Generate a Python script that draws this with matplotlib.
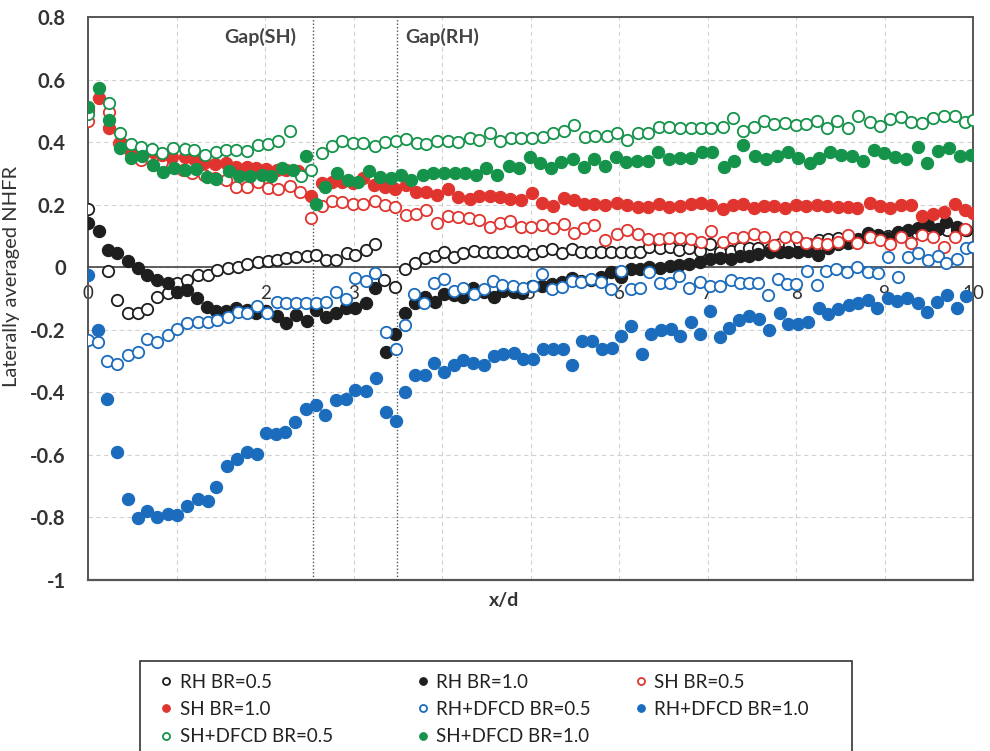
import matplotlib
matplotlib.use("Agg")
import matplotlib.pyplot as plt
from matplotlib.patches import Rectangle

plt.rcParams['font.family'] = ['Lato', 'DejaVu Sans']

# ---------------- data ----------------
rh05_x = [0.00, 0.23, 0.33, 0.45, 0.56, 0.67, 0.78, 0.90, 1.01, 1.12, 1.24, 1.35, 1.46, 1.58, 1.69, 1.80,
          1.92, 2.03, 2.14, 2.24, 2.35, 2.47, 2.58, 2.69, 2.80, 2.92, 3.02, 3.14, 3.24, 3.34, 3.47, 3.58,
          3.69, 3.81, 3.92, 4.02, 4.13, 4.24, 4.36, 4.47, 4.57, 4.68, 4.80, 4.91, 5.02, 5.13, 5.24, 5.35,
          5.47, 5.57, 5.68, 5.79, 5.91, 6.02, 6.13, 6.23, 6.34, 6.46, 6.57, 6.68, 6.79, 6.91, 7.02, 7.14,
          7.26, 7.36, 7.47, 7.57, 7.70, 7.81, 7.92, 8.03, 8.14, 8.25, 8.36, 8.47, 8.58, 8.70, 8.81, 8.92,
          9.03, 9.14, 9.25, 9.36, 9.47, 9.58, 9.70, 9.81, 9.92]
rh05_y = [0.186, -0.012, -0.106, -0.146, -0.146, -0.133, -0.095, -0.082, -0.052, -0.042, -0.026, -0.026,
          -0.008, -0.001, 0.001, 0.010, 0.017, 0.020, 0.022, 0.030, 0.033, 0.036, 0.040, 0.024, 0.022, 0.044,
          0.038, 0.054, 0.074, -0.042, -0.063, -0.007, 0.012, 0.028, 0.035, 0.049, 0.032, 0.044, 0.052, 0.048,
          0.048, 0.050, 0.048, 0.053, 0.041, 0.053, 0.059, 0.046, 0.059, 0.048, 0.048, 0.048, 0.048, 0.048,
          0.048, 0.050, 0.064, 0.061, 0.064, 0.055, 0.061, 0.051, 0.075, 0.048, 0.053, 0.061, 0.061, 0.061,
          0.059, 0.075, 0.070, 0.080, 0.075, 0.086, 0.090, 0.092, 0.090, 0.086, 0.095, 0.100, 0.100, 0.105,
          0.100, 0.110, 0.110, 0.120, 0.120, 0.118, 0.120]

rh10_x = [0.00, 0.12, 0.23, 0.33, 0.45, 0.56, 0.67, 0.78, 0.90, 1.01, 1.12, 1.23, 1.34, 1.45, 1.56, 1.67,
          1.79, 1.90, 2.01, 2.13, 2.24, 2.35, 2.47, 2.58, 2.69, 2.80, 2.91, 3.02, 3.14, 3.24, 3.36, 3.47,
          3.58, 3.69, 3.81, 3.92, 4.02, 4.13, 4.24, 4.35, 4.47, 4.58, 4.69, 4.81, 4.90, 5.01, 5.13, 5.24,
          5.35, 5.47, 5.57, 5.68, 5.79, 5.91, 6.02, 6.13, 6.23, 6.34, 6.46, 6.57, 6.68, 6.79, 6.91, 7.02,
          7.14, 7.26, 7.36, 7.47, 7.57, 7.70, 7.81, 7.91, 8.02, 8.13, 8.24, 8.36, 8.47, 8.58, 8.70, 8.81,
          8.92, 9.03, 9.15, 9.26, 9.37, 9.49, 9.60, 9.69, 9.81, 9.92]
rh10_y = [0.140, 0.116, 0.054, 0.044, 0.020, -0.001, -0.026, -0.040, -0.052, -0.079, -0.074, -0.100,
          -0.127, -0.140, -0.140, -0.129, -0.138, -0.146, -0.140, -0.157, -0.178, -0.154, -0.172, -0.138,
          -0.159, -0.146, -0.132, -0.129, -0.116, -0.068, -0.271, -0.214, -0.146, -0.114, -0.095, -0.111,
          -0.086, -0.090, -0.095, -0.065, -0.079, -0.095, -0.075, -0.079, -0.084, -0.061, -0.061, -0.055,
          -0.047, -0.035, -0.045, -0.040, -0.030, -0.014, -0.032, -0.007, -0.005, 0.000, -0.003, 0.003,
          0.007, 0.011, 0.016, 0.025, 0.029, 0.027, 0.037, 0.035, 0.043, 0.048, 0.048, 0.048, 0.050, 0.053,
          0.040, 0.060, 0.075, 0.076, 0.090, 0.108, 0.102, 0.092, 0.113, 0.118, 0.124, 0.134, 0.121, 0.145,
          0.129, 0.118]

sh05_x = [0.00, 0.24, 0.35, 0.48, 0.60, 0.73, 0.84, 0.95, 1.07, 1.18, 1.31, 1.43, 1.56, 1.67, 1.79, 1.92,
          2.03, 2.15, 2.28, 2.39, 2.52, 2.64, 2.76, 2.87, 2.99, 3.11, 3.24, 3.35, 3.47, 3.59, 3.70, 3.82,
          3.94, 4.06, 4.18, 4.30, 4.42, 4.54, 4.65, 4.77, 4.89, 5.00, 5.13, 5.25, 5.37, 5.49, 5.60, 5.72,
          5.84, 5.97, 6.09, 6.21, 6.32, 6.45, 6.56, 6.69, 6.81, 6.92, 7.04, 7.17, 7.28, 7.40, 7.52, 7.64,
          7.75, 7.87, 8.00, 8.11, 8.23, 8.35, 8.47, 8.58, 8.69, 8.83, 8.94, 9.06, 9.18, 9.30, 9.42, 9.54,
          9.67, 9.79, 9.91, 10.0]
sh05_y = [0.467, 0.497, 0.398, 0.364, 0.342, 0.326, 0.332, 0.321, 0.310, 0.300, 0.294, 0.284, 0.278, 0.257,
          0.257, 0.273, 0.252, 0.249, 0.259, 0.241, 0.156, 0.197, 0.212, 0.209, 0.202, 0.202, 0.212, 0.198,
          0.191, 0.166, 0.170, 0.182, 0.142, 0.163, 0.159, 0.156, 0.150, 0.129, 0.140, 0.148, 0.129, 0.127,
          0.134, 0.124, 0.138, 0.108, 0.124, 0.134, 0.086, 0.106, 0.118, 0.106, 0.089, 0.089, 0.092, 0.092,
          0.089, 0.081, 0.116, 0.081, 0.092, 0.095, 0.106, 0.097, 0.070, 0.097, 0.097, 0.076, 0.078, 0.074,
          0.081, 0.102, 0.078, 0.097, 0.086, 0.074, 0.097, 0.078, 0.102, 0.097, 0.064, 0.097, 0.122, 0.066]

sh10_x = [0.00, 0.12, 0.24, 0.37, 0.48, 0.61, 0.73, 0.84, 0.95, 1.09, 1.20, 1.31, 1.43, 1.56, 1.67, 1.79,
          1.90, 2.01, 2.13, 2.24, 2.37, 2.52, 2.64, 2.76, 2.87, 2.99, 3.11, 3.23, 3.35, 3.47, 3.59, 3.70,
          3.82, 3.94, 4.06, 4.18, 4.31, 4.42, 4.54, 4.65, 4.77, 4.89, 5.01, 5.13, 5.25, 5.37, 5.49, 5.60,
          5.72, 5.84, 5.97, 6.09, 6.21, 6.32, 6.45, 6.56, 6.69, 6.81, 6.92, 7.04, 7.17, 7.28, 7.40, 7.52,
          7.64, 7.75, 7.87, 8.00, 8.11, 8.23, 8.35, 8.47, 8.58, 8.69, 8.83, 8.94, 9.06, 9.18, 9.30, 9.42,
          9.54, 9.67, 9.79, 9.91, 10.0]
sh10_y = [0.502, 0.540, 0.444, 0.398, 0.369, 0.364, 0.369, 0.358, 0.353, 0.351, 0.345, 0.334, 0.330, 0.332,
          0.321, 0.319, 0.316, 0.313, 0.310, 0.310, 0.308, 0.227, 0.270, 0.273, 0.273, 0.268, 0.284, 0.262,
          0.255, 0.249, 0.262, 0.241, 0.241, 0.230, 0.249, 0.223, 0.217, 0.227, 0.227, 0.223, 0.217, 0.214,
          0.236, 0.204, 0.195, 0.220, 0.214, 0.202, 0.202, 0.198, 0.206, 0.198, 0.193, 0.191, 0.202, 0.193,
          0.195, 0.202, 0.204, 0.198, 0.185, 0.198, 0.202, 0.188, 0.195, 0.195, 0.188, 0.198, 0.195, 0.198,
          0.195, 0.191, 0.191, 0.188, 0.204, 0.195, 0.188, 0.198, 0.198, 0.163, 0.170, 0.177, 0.202, 0.182,
          0.172]

rhd05_x = [0.00, 0.11, 0.22, 0.33, 0.45, 0.56, 0.67, 0.78, 0.90, 1.01, 1.12, 1.24, 1.35, 1.46, 1.58, 1.69,
           1.80, 1.91, 2.02, 2.13, 2.24, 2.35, 2.46, 2.57, 2.69, 2.80, 2.91, 3.02, 3.14, 3.24, 3.36, 3.48,
           3.58, 3.68, 3.79, 3.91, 4.02, 4.13, 4.23, 4.36, 4.47, 4.57, 4.68, 4.80, 4.91, 5.02, 5.13, 5.24,
           5.35, 5.47, 5.57, 5.68, 5.79, 5.91, 6.02, 6.13, 6.23, 6.34, 6.46, 6.57, 6.68, 6.79, 6.91, 7.02,
           7.14, 7.26, 7.36, 7.47, 7.57, 7.68, 7.79, 7.89, 8.00, 8.12, 8.23, 8.34, 8.45, 8.57, 8.69, 8.81,
           8.92, 9.03, 9.15, 9.26, 9.37, 9.49, 9.60, 9.69, 9.81, 9.92, 10.0]
rhd05_y = [-0.234, -0.239, -0.301, -0.308, -0.282, -0.271, -0.231, -0.239, -0.218, -0.199, -0.178, -0.175,
           -0.175, -0.170, -0.159, -0.143, -0.146, -0.125, -0.148, -0.111, -0.116, -0.116, -0.116, -0.114,
           -0.111, -0.080, -0.103, -0.033, -0.044, -0.020, -0.207, -0.260, -0.186, -0.085, -0.114, -0.050,
           -0.039, -0.075, -0.067, -0.085, -0.070, -0.043, -0.057, -0.059, -0.067, -0.060, -0.021, -0.069,
           -0.064, -0.043, -0.048, -0.039, -0.046, -0.069, -0.011, -0.069, -0.067, -0.014, -0.050, -0.050,
           -0.027, -0.067, -0.046, -0.060, -0.061, -0.040, -0.050, -0.050, -0.050, -0.090, -0.039, -0.053,
           -0.053, -0.011, -0.057, -0.011, -0.005, -0.016, 0.001, -0.015, -0.020, 0.033, -0.031, 0.033,
           0.044, 0.022, 0.035, 0.012, 0.025, 0.060, 0.065]

rhd10_x = [0.00, 0.11, 0.22, 0.33, 0.45, 0.56, 0.67, 0.78, 0.90, 1.01, 1.12, 1.24, 1.35, 1.45, 1.57, 1.68,
           1.79, 1.91, 2.01, 2.12, 2.23, 2.34, 2.46, 2.57, 2.68, 2.80, 2.91, 3.02, 3.14, 3.25, 3.36, 3.48,
           3.58, 3.69, 3.81, 3.91, 4.02, 4.13, 4.24, 4.35, 4.47, 4.58, 4.69, 4.81, 4.91, 5.02, 5.14, 5.25,
           5.36, 5.47, 5.58, 5.69, 5.81, 5.92, 6.02, 6.13, 6.26, 6.36, 6.47, 6.58, 6.69, 6.81, 6.91, 7.03,
           7.14, 7.24, 7.35, 7.47, 7.58, 7.69, 7.81, 7.91, 8.02, 8.13, 8.25, 8.36, 8.47, 8.59, 8.70, 8.81,
           8.91, 9.03, 9.14, 9.25, 9.37, 9.48, 9.59, 9.70, 9.81, 9.92]
rhd10_y = [-0.026, -0.202, -0.420, -0.591, -0.740, -0.801, -0.778, -0.799, -0.788, -0.791, -0.765, -0.740,
           -0.746, -0.703, -0.634, -0.612, -0.591, -0.596, -0.530, -0.534, -0.527, -0.495, -0.452, -0.442,
           -0.474, -0.423, -0.420, -0.394, -0.396, -0.353, -0.463, -0.492, -0.399, -0.346, -0.346, -0.306,
           -0.335, -0.314, -0.298, -0.306, -0.314, -0.285, -0.278, -0.274, -0.292, -0.292, -0.260, -0.260,
           -0.260, -0.314, -0.236, -0.236, -0.260, -0.257, -0.221, -0.189, -0.278, -0.214, -0.200, -0.196,
           -0.221, -0.175, -0.212, -0.140, -0.223, -0.193, -0.170, -0.157, -0.167, -0.200, -0.146, -0.180,
           -0.182, -0.175, -0.129, -0.150, -0.135, -0.122, -0.114, -0.106, -0.132, -0.097, -0.108, -0.100,
           -0.114, -0.143, -0.111, -0.090, -0.129, -0.093]

shd05_x = [0.00, 0.24, 0.36, 0.48, 0.60, 0.72, 0.84, 0.96, 1.09, 1.20, 1.32, 1.44, 1.56, 1.67, 1.79, 1.92,
           2.03, 2.15, 2.28, 2.40, 2.52, 2.64, 2.76, 2.87, 2.99, 3.11, 3.24, 3.35, 3.48, 3.59, 3.71, 3.82,
           3.94, 4.07, 4.18, 4.31, 4.42, 4.54, 4.65, 4.78, 4.89, 5.01, 5.14, 5.25, 5.37, 5.49, 5.61, 5.73,
           5.86, 5.97, 6.09, 6.21, 6.32, 6.45, 6.56, 6.69, 6.81, 6.92, 7.04, 7.17, 7.28, 7.40, 7.52, 7.63,
           7.75, 7.87, 8.00, 8.11, 8.23, 8.35, 8.46, 8.58, 8.70, 8.83, 8.94, 9.06, 9.18, 9.30, 9.42, 9.54,
           9.67, 9.79, 9.90, 10.0]
shd05_y = [0.489, 0.524, 0.430, 0.394, 0.385, 0.377, 0.364, 0.380, 0.377, 0.374, 0.358, 0.369, 0.374, 0.374,
           0.372, 0.390, 0.394, 0.404, 0.436, 0.291, 0.310, 0.366, 0.387, 0.404, 0.396, 0.398, 0.387, 0.401,
           0.404, 0.409, 0.398, 0.394, 0.404, 0.404, 0.401, 0.412, 0.406, 0.428, 0.404, 0.412, 0.412, 0.412,
           0.415, 0.428, 0.437, 0.456, 0.415, 0.419, 0.419, 0.428, 0.406, 0.430, 0.428, 0.449, 0.449, 0.444,
           0.444, 0.444, 0.444, 0.447, 0.476, 0.436, 0.449, 0.468, 0.457, 0.462, 0.454, 0.458, 0.468, 0.444,
           0.468, 0.444, 0.483, 0.465, 0.451, 0.473, 0.481, 0.465, 0.462, 0.476, 0.483, 0.483, 0.465, 0.470]

shd10_x = [0.00, 0.12, 0.24, 0.36, 0.48, 0.61, 0.73, 0.85, 0.97, 1.10, 1.22, 1.34, 1.45, 1.59, 1.71, 1.83,
           1.96, 2.07, 2.19, 2.31, 2.46, 2.57, 2.68, 2.81, 2.94, 3.05, 3.17, 3.30, 3.42, 3.53, 3.65, 3.78,
           3.90, 4.02, 4.14, 4.26, 4.38, 4.50, 4.62, 4.75, 4.87, 4.99, 5.11, 5.23, 5.34, 5.48, 5.60, 5.71,
           5.84, 5.96, 6.08, 6.20, 6.32, 6.44, 6.56, 6.69, 6.81, 6.93, 7.05, 7.18, 7.29, 7.40, 7.53, 7.66,
           7.78, 7.90, 8.02, 8.15, 8.26, 8.38, 8.50, 8.63, 8.75, 8.88, 8.99, 9.11, 9.24, 9.37, 9.48, 9.60,
           9.72, 9.85, 9.97]
shd10_y = [0.513, 0.572, 0.470, 0.380, 0.348, 0.355, 0.326, 0.305, 0.316, 0.310, 0.313, 0.287, 0.281, 0.308,
           0.291, 0.291, 0.294, 0.291, 0.316, 0.310, 0.355, 0.202, 0.257, 0.302, 0.278, 0.273, 0.308, 0.287,
           0.284, 0.294, 0.278, 0.294, 0.300, 0.300, 0.302, 0.300, 0.294, 0.316, 0.294, 0.323, 0.316, 0.351,
           0.332, 0.316, 0.337, 0.345, 0.321, 0.345, 0.323, 0.351, 0.337, 0.340, 0.340, 0.369, 0.345, 0.348,
           0.348, 0.369, 0.369, 0.319, 0.340, 0.390, 0.355, 0.345, 0.355, 0.369, 0.348, 0.334, 0.348, 0.369,
           0.358, 0.355, 0.340, 0.374, 0.364, 0.351, 0.345, 0.385, 0.334, 0.372, 0.380, 0.355, 0.358]

y_ticks = [-1, -0.8, -0.6, -0.4, -0.2, 0, 0.2, 0.4, 0.6, 0.8]
y_tick_labels = ['-1', '-0.8', '-0.6', '-0.4', '-0.2', '0', '0.2', '0.4', '0.6', '0.8']
x_ticks = [0, 1, 2, 3, 4, 5, 6, 7, 8, 9, 10]
x_tick_labels = ['0', '1', '2', '3', '', '5', '6', '7', '8', '9', '10']
gap_lines = [2.54, 3.49]
gap_labels = ['Gap(SH)', 'Gap(RH)']
gap_label_x = [1.95, 4.0]

BLACK = '#1e1e1e'
RED = '#e0352f'
BLUE = '#1b6cbd'
GREEN = '#15934a'

series = [
    ('RH BR=0.5', rh05_x, rh05_y, BLACK, False),
    ('RH BR=1.0', rh10_x, rh10_y, BLACK, True),
    ('SH BR=0.5', sh05_x, sh05_y, RED, False),
    ('SH BR=1.0', sh10_x, sh10_y, RED, True),
    ('RH+DFCD BR=0.5', rhd05_x, rhd05_y, BLUE, False),
    ('RH+DFCD BR=1.0', rhd10_x, rhd10_y, BLUE, True),
    ('SH+DFCD BR=0.5', shd05_x, shd05_y, GREEN, False),
    ('SH+DFCD BR=1.0', shd10_x, shd10_y, GREEN, True),
]

fig = plt.figure(figsize=(9.9, 7.51), dpi=100)
ax = fig.add_axes([0.0889, 0.2277, 0.8944, 0.7497])

ax.set_xlim(0, 10)
ax.set_ylim(-1, 0.8)

handles = {}
for name, xs, ys, col, filled in series:
    if filled:
        h, = ax.plot(xs, ys, 'o', ms=8.8, mfc=col, mec=col, mew=0.8, ls='none', label=name, zorder=3)
    else:
        h, = ax.plot(xs, ys, 'o', ms=8.2, mfc='white', mec=col, mew=1.3, ls='none', label=name, zorder=3)
    handles[name] = h

# grid
ax.set_xticks(x_ticks)
ax.set_yticks(y_ticks)
ax.set_yticklabels(y_tick_labels)
ax.set_xticklabels(x_tick_labels)
ax.grid(True, ls=(0, (4, 3)), color='#d2d2d2', lw=0.8, zorder=0)
ax.set_axisbelow(True)

for gx in gap_lines:
    ax.axvline(gx, color='#555555', ls=(0, (1, 1.5)), lw=1.0, zorder=1)
for lab, lx in zip(gap_labels, gap_label_x):
    ax.text(lx, 0.736, lab, ha='center', va='center', fontsize=14, fontweight='bold', color='#444444')

# spines: bottom spine acts as the zero line
ax.spines['bottom'].set_position(('data', 0))
ax.spines['bottom'].set_color('#444444')
ax.spines['bottom'].set_linewidth(1.2)
for s in ['left', 'top', 'right']:
    ax.spines[s].set_color('#555555')
    ax.spines[s].set_linewidth(1.4)
ax.axhline(-1, color='#555555', lw=1.6, clip_on=False, zorder=4)

ax.tick_params(axis='x', length=0, pad=13, labelsize=13.5, labelcolor='#333333')
ax.tick_params(axis='y', length=0, pad=16, labelsize=14.5, labelcolor='#333333')
for t in ax.get_yticklabels():
    t.set_fontweight('bold')

ax.set_ylabel('Laterally averaged NHFR', fontsize=14.5, color='#333333')
ax.yaxis.set_label_coords(-0.077, 0.54)
ax.text(0.47, -0.022, 'x/d', transform=ax.transAxes, ha='center', va='top',
        fontsize=14, fontweight='bold', color='#333333')

# legend box
fig.add_artist(Rectangle((0.1414, -0.01), 0.7192, 0.1298, transform=fig.transFigure,
                         fill=False, edgecolor='#333333', lw=1.2))
cols = [
    (['RH BR=0.5', 'SH BR=1.0', 'SH+DFCD BR=0.5'], 0.161),
    (['RH BR=1.0', 'RH+DFCD BR=0.5', 'SH+DFCD BR=1.0'], 0.420),
    (['SH BR=0.5', 'RH+DFCD BR=1.0'], 0.640),
]
for names, lx in cols:
    leg = fig.legend([handles[n] for n in names], names, loc='upper left',
                     bbox_to_anchor=(lx, 0.103), frameon=False, fontsize=13.5,
                     markerscale=0.62, handlelength=0.75, handletextpad=0.35,
                     labelspacing=0.55, borderpad=0, borderaxespad=0)
    for t in leg.get_texts():
        t.set_color('#222222')

fig.savefig('out.png', dpi=100)
